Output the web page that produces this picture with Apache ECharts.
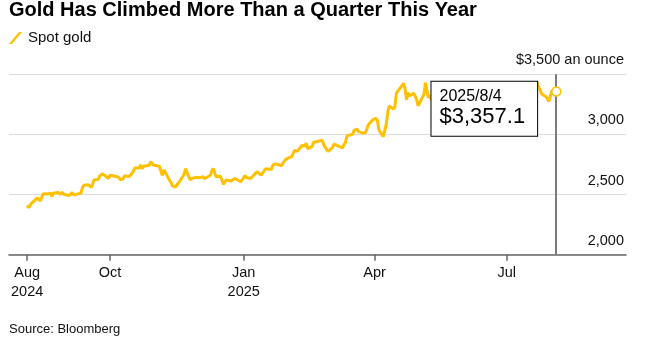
<!DOCTYPE html>
<html>
<head>
<meta charset="utf-8">
<script src="https://cdn.jsdelivr.net/npm/echarts@6/dist/echarts.min.js"></script>
<style>
html,body{margin:0;padding:0;background:#fff;}
#chart{width:645px;height:341px;}
</style>
</head>
<body>
<div id="chart"></div>
<script>
// ---- Data: Spot gold, daily close (USD per ounce) ----
const dates = [
'2024-08-05','2024-08-06','2024-08-07','2024-08-08','2024-08-09','2024-08-12','2024-08-13','2024-08-14','2024-08-15','2024-08-16',
'2024-08-19','2024-08-20','2024-08-21','2024-08-22','2024-08-23','2024-08-26','2024-08-27','2024-08-28','2024-08-29','2024-08-30',
'2024-09-03','2024-09-04','2024-09-05','2024-09-06','2024-09-09','2024-09-10','2024-09-11','2024-09-12','2024-09-13','2024-09-16',
'2024-09-17','2024-09-18','2024-09-19','2024-09-20','2024-09-23','2024-09-24','2024-09-25','2024-09-26','2024-09-27','2024-09-30',
'2024-10-01','2024-10-02','2024-10-03','2024-10-04','2024-10-07','2024-10-08','2024-10-09','2024-10-10','2024-10-11','2024-10-14',
'2024-10-15','2024-10-16','2024-10-17','2024-10-18','2024-10-21','2024-10-22','2024-10-23','2024-10-24','2024-10-25','2024-10-28',
'2024-10-29','2024-10-30','2024-10-31','2024-11-01','2024-11-04','2024-11-05','2024-11-06','2024-11-07','2024-11-08','2024-11-11',
'2024-11-12','2024-11-13','2024-11-14','2024-11-15','2024-11-18','2024-11-19','2024-11-20','2024-11-21','2024-11-22','2024-11-25',
'2024-11-26','2024-11-27','2024-11-28','2024-11-29','2024-12-02','2024-12-03','2024-12-04','2024-12-05','2024-12-06','2024-12-09',
'2024-12-10','2024-12-11','2024-12-12','2024-12-13','2024-12-16','2024-12-17','2024-12-18','2024-12-19','2024-12-20','2024-12-23',
'2024-12-24','2024-12-26','2024-12-27','2024-12-30','2024-12-31','2025-01-02','2025-01-03','2025-01-06','2025-01-07','2025-01-08',
'2025-01-09','2025-01-10','2025-01-13','2025-01-14','2025-01-15','2025-01-16','2025-01-17','2025-01-20','2025-01-21','2025-01-22',
'2025-01-23','2025-01-24','2025-01-27','2025-01-28','2025-01-29','2025-01-30','2025-01-31','2025-02-03','2025-02-04','2025-02-05',
'2025-02-06','2025-02-07','2025-02-10','2025-02-11','2025-02-12','2025-02-13','2025-02-14','2025-02-17','2025-02-18','2025-02-19',
'2025-02-20','2025-02-21','2025-02-24','2025-02-25','2025-02-26','2025-02-27','2025-02-28','2025-03-03','2025-03-04','2025-03-05',
'2025-03-06','2025-03-07','2025-03-10','2025-03-11','2025-03-12','2025-03-13','2025-03-14','2025-03-17','2025-03-18','2025-03-19',
'2025-03-20','2025-03-21','2025-03-24','2025-03-25','2025-03-26','2025-03-27','2025-03-28','2025-03-31','2025-04-01','2025-04-02',
'2025-04-03','2025-04-04','2025-04-07','2025-04-08','2025-04-09','2025-04-10','2025-04-11','2025-04-14','2025-04-15','2025-04-16',
'2025-04-17','2025-04-21','2025-04-22','2025-04-23','2025-04-24','2025-04-25','2025-04-28','2025-04-29','2025-04-30','2025-05-01',
'2025-05-02','2025-05-05','2025-05-06','2025-05-07','2025-05-08','2025-05-09','2025-05-12','2025-05-13','2025-05-14','2025-05-15',
'2025-05-16','2025-05-19','2025-05-20','2025-05-21','2025-05-22','2025-05-23','2025-05-26','2025-05-27','2025-05-28','2025-05-29',
'2025-05-30','2025-06-02','2025-06-03','2025-06-04','2025-06-05','2025-06-06','2025-06-09','2025-06-10','2025-06-11','2025-06-12',
'2025-06-13','2025-06-16','2025-06-17','2025-06-18','2025-06-19','2025-06-20','2025-06-23','2025-06-24','2025-06-25','2025-06-26',
'2025-06-27','2025-06-30','2025-07-01','2025-07-02','2025-07-03','2025-07-04','2025-07-07','2025-07-08','2025-07-09','2025-07-10',
'2025-07-11','2025-07-14','2025-07-15','2025-07-16','2025-07-17','2025-07-18','2025-07-21','2025-07-22','2025-07-23','2025-07-24',
'2025-07-25','2025-07-28','2025-07-29','2025-07-30','2025-07-31','2025-08-01','2025-08-04'
];
const prices = [
2410,2390,2382,2427,2431,2472,2465,2447,2456,2507,
2504,2514,2512,2484,2512,2518,2524,2504,2521,2503,
2493,2495,2516,2497,2506,2516,2512,2558,2578,2582,
2569,2559,2587,2622,2628,2657,2657,2672,2658,2634,
2662,2657,2656,2653,2644,2622,2608,2630,2656,2649,
2662,2674,2693,2721,2720,2748,2715,2736,2747,2743,
2774,2788,2743,2736,2736,2742,2659,2706,2685,2619,
2598,2573,2565,2563,2612,2631,2650,2670,2715,2624,
2633,2637,2639,2643,2640,2643,2650,2632,2633,2660,
2694,2718,2680,2648,2652,2646,2586,2594,2622,2612,
2617,2634,2621,2606,2625,2658,2640,2636,2648,2662,
2670,2690,2662,2677,2696,2715,2703,2708,2745,2755,
2755,2770,2740,2763,2760,2794,2798,2815,2843,2867,
2856,2861,2908,2898,2904,2927,2883,2898,2935,2933,
2939,2936,2951,2914,2916,2876,2858,2893,2918,2920,
2910,2910,2889,2915,2934,2988,2984,3001,3035,3048,
3044,3023,3011,3019,3018,3057,3085,3124,3113,3134,
3114,3037,2982,2982,3082,3175,3237,3211,3230,3343,
3327,3424,3381,3288,3349,3319,3343,3317,3288,3238,
3240,3334,3431,3366,3305,3325,3236,3248,3178,3240,
3203,3230,3290,3315,3295,3357,3343,3300,3288,3318,
3289,3381,3352,3375,3353,3310,3326,3322,3334,3386,
3433,3385,3388,3369,3370,3368,3368,3323,3333,3328,
3274,3303,3339,3357,3326,3337,3336,3302,3313,3324,
3355,3343,3324,3347,3339,3350,3397,3432,3388,3368,
3337,3314,3326,3275,3289,3363,3357.1
];
// X tick positions and labels
const tickDates = ['2024-08-05','2024-10-01','2025-01-01','2025-04-01','2025-07-01'];
const tickLabels = ['Aug\n2024','Oct','Jan\n2025','Apr','Jul'];
// Y ticks
const yTicks = [2000, 2500, 3000, 3500];
const yTickLabels = ['2,000', '2,500', '3,000', '$3,500 an ounce'];

const FONT = 'Liberation Sans, Arial, Helvetica, sans-serif';
const GOLD = '#FFC000';

function ts(s){ const p = s.split('-').map(Number); return Date.UTC(p[0], p[1]-1, p[2]); }
const tickTs = tickDates.map(ts);
const lastIdx = dates.length - 1;
const lastDate = dates[lastIdx];
const lastPrice = prices[lastIdx];
const lp = lastDate.split('-').map(Number);
const lastDateLabel = lp[0] + '/' + lp[1] + '/' + lp[2];
const lastPriceLabel = '$' + lastPrice.toLocaleString('en-US', {minimumFractionDigits: 1, maximumFractionDigits: 1});

const chart = echarts.init(document.getElementById('chart'), null, {renderer: 'canvas'});
chart.setOption({
  animation: false,
  backgroundColor: '#fff',
  textStyle: {fontFamily: FONT},
  title: {
    text: 'Gold Has Climbed More Than a Quarter This Year',
    left: 9, top: 0, padding: 0,
    textStyle: {fontFamily: FONT, fontSize: 20, fontWeight: 'bold', color: '#000'}
  },
  legend: {
    left: 9, top: 30.5, padding: 0,
    data: ['Spot gold'],
    icon: 'path://M0,12 L10,0 L13,0 L3,12 Z',
    itemWidth: 13, itemHeight: 12, itemGap: 10,
    itemStyle: {color: GOLD, borderWidth: 0},
    textStyle: {fontFamily: FONT, fontSize: 15, color: '#111', padding: [0,0,0,1]},
    selectedMode: false
  },
  graphic: [{
    type: 'text', left: 9, top: 323,
    style: {text: 'Source: Bloomberg', fontFamily: FONT, fontSize: 13, fill: '#111'}
  }],
  grid: {left: 9, right: 19, top: 74.3, bottom: 86.3},
  xAxis: {
    type: 'value',
    min: ts('2024-07-23') + 12 * 3600 * 1000,
    max: ts('2025-09-21'),
    splitLine: {show: false},
    axisLine: {show: true, onZero: false, lineStyle: {color: '#666', width: 1.6}},
    axisTick: {show: true, length: 6, lineStyle: {color: '#666', width: 1.5}, customValues: tickTs},
    axisLabel: {
      customValues: tickTs,
      margin: 9,
      fontFamily: FONT, fontSize: 14.5, color: '#111', lineHeight: 19,
      formatter: function (v) {
        const i = tickTs.indexOf(v);
        return i >= 0 ? tickLabels[i] : '';
      }
    }
  },
  yAxis: {
    type: 'value',
    position: 'right',
    min: 2000, max: 3500, interval: 500,
    axisLine: {show: false},
    axisTick: {show: false},
    splitLine: {show: true, lineStyle: {color: '#dddddd', width: 1.2}},
    axisLabel: {
      inside: true, margin: 2,
      fontFamily: FONT, fontSize: 14.5, color: '#111',
      verticalAlign: 'bottom', lineHeight: 28,
      formatter: function (v) {
        const i = yTicks.indexOf(v);
        return i >= 0 ? yTickLabels[i] : '';
      }
    }
  },
  series: [{
    name: 'Spot gold',
    type: 'line',
    data: dates.map((d, i) => [ts(d), prices[i]]),
    showSymbol: false,
    symbol: 'none',
    color: GOLD,
    lineStyle: {color: GOLD, width: 3},
    emphasis: {disabled: true},
    markLine: {
      silent: true, z: 3,
      symbol: ['none', 'none'],
      label: {show: false},
      lineStyle: {color: '#7a7a7a', width: 2, type: 'solid'},
      emphasis: {disabled: true},
      data: [{xAxis: ts(lastDate)}]
    },
    markPoint: {
      silent: true, z: 5,
      symbol: 'circle', symbolSize: 9,
      itemStyle: {color: '#fff', borderColor: GOLD, borderWidth: 1.5},
      emphasis: {disabled: true},
      label: {
        show: true,
        position: [-119.5, -4.5],
        backgroundColor: '#fff',
        borderColor: '#000', borderWidth: 1,
        padding: [6, 12, 7, 8],
        color: '#000',
        formatter: '{d|' + lastDateLabel + '}\n{v|' + lastPriceLabel + '}',
        rich: {
          d: {fontFamily: FONT, fontSize: 16, lineHeight: 17, color: '#000'},
          v: {fontFamily: FONT, fontSize: 22, lineHeight: 24, color: '#000'}
        }
      },
      data: [{coord: [ts(lastDate), lastPrice]}]
    }
  }]
});
</script>
</body>
</html>
